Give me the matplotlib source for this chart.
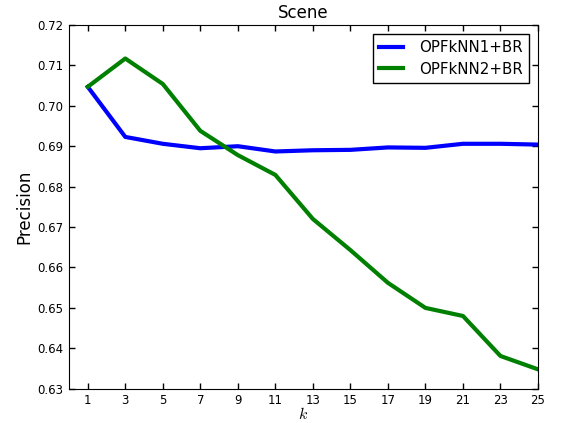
import matplotlib
matplotlib.use("Agg")
import matplotlib.pyplot as plt

k = [1, 3, 5, 7, 9, 11, 13, 15, 17, 19, 21, 23, 25]
opf1 = [0.7047, 0.6923, 0.6906, 0.6895, 0.6900, 0.6887, 0.6890, 0.6891, 0.6897, 0.6896, 0.6906, 0.6906, 0.6904]
opf2 = [0.7047, 0.7117, 0.7054, 0.6938, 0.6878, 0.6829, 0.6720, 0.6643, 0.6562, 0.6500, 0.6480, 0.6381, 0.6348]
yticks = [0.63, 0.64, 0.65, 0.66, 0.67, 0.68, 0.69, 0.70, 0.71, 0.72]

plt.rcParams['xtick.direction'] = 'in'
plt.rcParams['ytick.direction'] = 'in'
plt.rcParams['xtick.top'] = True
plt.rcParams['ytick.right'] = True
plt.rcParams['mathtext.fontset'] = 'cm'

fig = plt.figure(figsize=(5.61, 4.23), dpi=100)
ax = fig.add_axes([0.123, 0.081, 0.836, 0.860])
ax.plot(k, opf1, color=(0, 0, 1), lw=3, label='OPFkNN1+BR')
ax.plot(k, opf2, color=(0, 0.5, 0), lw=3, label='OPFkNN2+BR')
ax.set_xlim(0, 25)
ax.set_ylim(0.63, 0.72)
ax.set_xticks(k)
ax.set_yticks(yticks)
ax.set_yticklabels([f"{v:.2f}" for v in yticks])
ax.tick_params(labelsize=8.5, length=4, width=1, pad=4)
ax.set_title('Scene', fontsize=12, pad=5)
ax.set_ylabel('Precision', fontsize=12, labelpad=3)
ax.set_xlabel('$k$', fontsize=11.5, labelpad=-1)
leg = ax.legend(loc='upper right', fontsize=10.8, fancybox=False, framealpha=1,
                edgecolor='black', handlelength=1.6, handletextpad=1.1,
                borderaxespad=0.6, labelspacing=0.45)
leg.get_frame().set_linewidth(1)
fig.savefig('out.png', dpi=100)
